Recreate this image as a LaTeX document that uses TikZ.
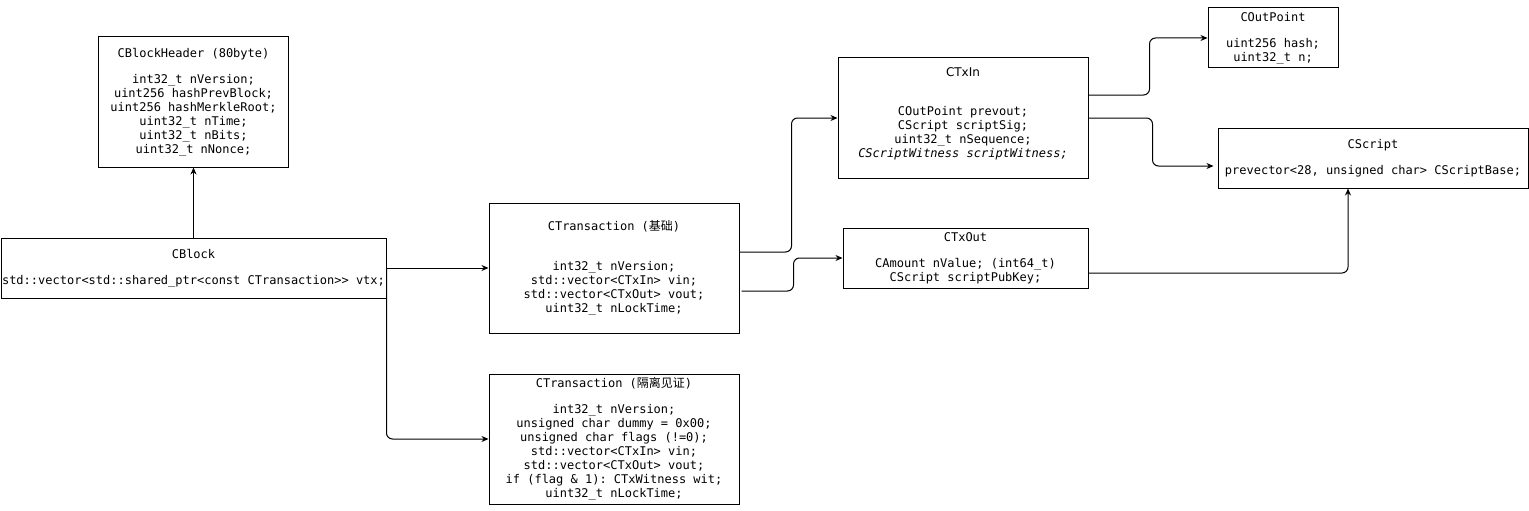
\documentclass[tikz,border=0pt]{standalone}
\usepackage{fontspec}
\setmonofont{DejaVu Sans Mono}
\setsansfont{DejaVu Sans}
\newfontfamily\cjk{Noto Sans CJK SC}
\usetikzlibrary{arrows.meta, positioning}

\begin{document}
\begin{tikzpicture}[
    x=1pt, y=-1pt,
    structbox/.style={rectangle, draw=black, line width=1pt, fill=white, inner sep=0pt, font=\ttfamily\fontsize{12}{14}\selectfont, align=center},
    arrow/.style={-{Stealth[length=7pt, width=6pt]}, line width=1pt, draw=black, rounded corners=6pt}
]
\useasboundingbox (0,0) rectangle (1529,511);

% 区块
\node[structbox, minimum width=385pt, minimum height=60pt] (block) at (193.5,268) {CBlock\\[12pt] std::vector<std::shared\_ptr<const CTransaction>{}> vtx;};
\node[structbox, minimum width=190pt, minimum height=130pt, above=70pt of block] (header) {CBlockHeader (80byte)\\[12pt] int32\_t nVersion;\\ uint256 hashPrevBlock;\\ uint256 hashMerkleRoot;\\ uint32\_t nTime;\\ uint32\_t nBits;\\ uint32\_t nNonce;};

% 交易
\node[structbox, minimum width=250pt, minimum height=130pt, right=102pt of block] (tx-base) {CTransaction ({\cjk 基础})\\[26pt] int32\_t nVersion;\\ std::vector<CTxIn> vin;\\ std::vector<CTxOut> vout;\\ uint32\_t nLockTime;};
\node[structbox, minimum width=250pt, minimum height=130pt, below=40pt of tx-base] (tx-witness) {CTransaction ({\cjk 隔离见证})\\[12pt] int32\_t nVersion;\\ unsigned char dummy = 0x00;\\ unsigned char flags (!=0);\\ std::vector<CTxIn> vin;\\ std::vector<CTxOut> vout;\\ if (flag \& 1): CTxWitness wit;\\ uint32\_t nLockTime;};

% 输入输出
\node[structbox, minimum width=250pt, minimum height=120pt] (txin) at (963,118) {{\sffamily CTxIn}\\[25pt] COutPoint prevout;\\ CScript scriptSig;\\ uint32\_t nSequence;\\ \itshape CScriptWitness scriptWitness;\\[-3pt] \mbox{}};
\node[structbox, minimum width=245pt, minimum height=60pt] (txout) at (965.5,258) {CTxOut\\[12pt] CAmount nValue; (int64\_t)\\ CScript scriptPubKey;};

% 脚本与输出点
\node[structbox, minimum width=130pt, minimum height=60pt] (outpoint) at (1273,38) {COutPoint\\[12pt] uint256 hash;\\ uint32\_t n;};
\node[structbox, minimum width=310pt, minimum height=60pt] (script) at (1373,158) {CScript\\[12pt] prevector<28, unsigned char> CScriptBase;};

% 连接箭头
\draw[arrow] (block) -- (header);
\draw[arrow] (block.east) -- (tx-base.west);
\draw[arrow] (block.east) |- (tx-witness.west);
\draw[arrow] ([yshift=16pt]tx-base.east) -- ++(52,0) |- (txin.west);
\draw[arrow] ([xshift=2pt, yshift=-23pt]tx-base.east) -- ++(52,0) |- (txout.west);
\draw[arrow] ([yshift=23pt]txin.east) -- ++(61,0) |- (outpoint.west);
\draw[arrow] (txin.east) -- ++(64,0) |- ([xshift=-4pt, yshift=-8pt]script.west);
\draw[arrow] ([yshift=-15pt]txout.east) -| ([xshift=-25pt]script.south);
\end{tikzpicture}
\end{document}
